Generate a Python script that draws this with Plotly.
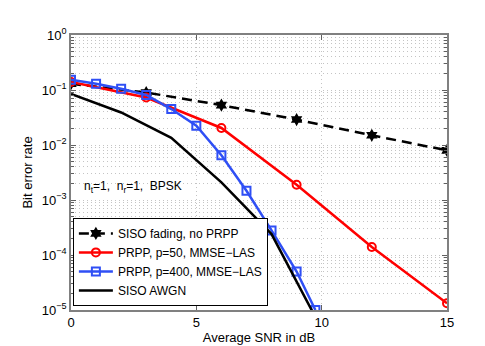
import plotly.graph_objects as go

# Data
snr_fading = [0, 3, 6, 9, 12, 15]
ber_fading = [0.13, 0.09, 0.053, 0.029, 0.015, 0.0080]

snr_p50 = [0, 3, 6, 9, 12, 15]
ber_p50 = [0.14, 0.073, 0.0204, 0.0019, 0.00014, 1.33e-5]

snr_p400 = [0, 1, 2, 3, 4, 5, 6, 7, 8, 9, 9.75]
ber_p400 = [0.153, 0.13, 0.105, 0.081, 0.045, 0.0225, 0.0065, 0.00147, 0.00028, 5.0e-5, 1.0e-5]

snr_awgn = [0, 2, 4, 6, 8, 10]
ber_awgn = [0.085, 0.039, 0.0135, 0.0021, 0.00024, 4.5e-6]

x_ticks = [0, 5, 10, 15]
y_tickvals = [1, 1e-1, 1e-2, 1e-3, 1e-4, 1e-5]
y_ticktext = ["10<sup>0</sup>", "10<sup>−1</sup>", "10<sup>−2</sup>",
              "10<sup>−3</sup>", "10<sup>−4</sup>", "10<sup>−5</sup>"]

BLUE = "#2f4ff5"
GRID = "#c4c4c4"

fig = go.Figure()
fig.add_trace(go.Scatter(
    x=snr_fading, y=ber_fading, mode="lines+markers",
    name="SISO fading, no PRPP",
    line=dict(color="black", width=2.5, dash="10px,6px"),
    marker=dict(symbol="hexagram", size=10, color="black")))
fig.add_trace(go.Scatter(
    x=snr_p50, y=ber_p50, mode="lines+markers",
    name="PRPP, p=50, MMSE−LAS",
    line=dict(color="#ff0000", width=2.5),
    marker=dict(symbol="circle-open", size=8, color="#ff0000", line=dict(width=2))))
fig.add_trace(go.Scatter(
    x=snr_p400, y=ber_p400, mode="lines+markers",
    name="PRPP, p=400, MMSE−LAS",
    line=dict(color=BLUE, width=2.5),
    marker=dict(symbol="square-open", size=8, color=BLUE, line=dict(width=2))))
fig.add_trace(go.Scatter(
    x=snr_awgn, y=ber_awgn, mode="lines",
    name="SISO AWGN",
    line=dict(color="black", width=2.5)))

fig.add_annotation(
    x=0.45, y=-2.77, xref="x", yref="y",
    text="n<sub>t</sub>=1,  n<sub>r</sub>=1,  BPSK",
    showarrow=False, xanchor="left", yanchor="middle",
    font=dict(size=12, color="black"))

fig.update_layout(
    width=485, height=346,
    margin=dict(l=63, r=46, t=27, b=39),
    paper_bgcolor="white", plot_bgcolor="white",
    font=dict(family="Liberation Sans, Arial, sans-serif", size=13, color="black"),
    showlegend=True,
    legend=dict(
        x=0.005, y=0.015, xanchor="left", yanchor="bottom",
        bgcolor="white", bordercolor="black", borderwidth=1,
        font=dict(size=12), itemwidth=34, tracegroupgap=0),
)
fig.update_xaxes(
    range=[0, 15], tickvals=x_ticks, ticks="inside", ticklen=5,
    tickcolor="#606060",
    showline=True, linecolor="#808080", linewidth=1.5, mirror="ticks",
    showgrid=True, gridcolor=GRID, griddash="1px,3px", gridwidth=1,
    zeroline=False,
    title=dict(text="Average SNR in dB", font=dict(size=13), standoff=3))
fig.update_yaxes(
    type="log", range=[-5, 0], tickvals=y_tickvals, ticktext=y_ticktext,
    ticks="inside", ticklen=5, tickcolor="#606060",
    showline=True, linecolor="#808080", linewidth=1.5, mirror="ticks",
    showgrid=True, gridcolor=GRID, griddash="1px,3px", gridwidth=1,
    minor=dict(dtick="D1", showgrid=True, gridcolor=GRID, griddash="1px,3px",
               ticks="inside", ticklen=3, tickcolor="#606060"),
    zeroline=False,
    title=dict(text="Bit error rate", font=dict(size=13), standoff=6))

fig.write_html("out.html")
